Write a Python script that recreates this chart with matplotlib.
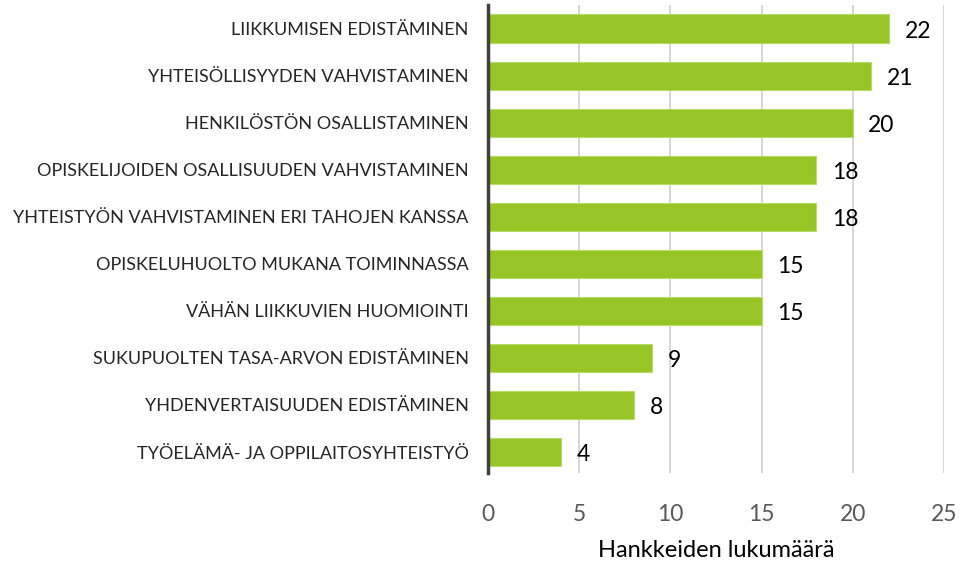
import matplotlib.pyplot as plt
import numpy as np

plt.rcParams['font.family'] = ['Lato', 'DejaVu Sans']

categories = [
    "LIIKKUMISEN EDISTÄMINEN",
    "YHTEISÖLLISYYDEN VAHVISTAMINEN",
    "HENKILÖSTÖN OSALLISTAMINEN",
    "OPISKELIJOIDEN OSALLISUUDEN VAHVISTAMINEN",
    "YHTEISTYÖN VAHVISTAMINEN ERI TAHOJEN KANSSA",
    "OPISKELUHUOLTO MUKANA TOIMINNASSA",
    "VÄHÄN LIIKKUVIEN HUOMIOINTI",
    "SUKUPUOLTEN TASA-ARVON EDISTÄMINEN",
    "YHDENVERTAISUUDEN EDISTÄMINEN",
    "TYÖELÄMÄ- JA OPPILAITOSYHTEISTYÖ",
]
values = [22, 21, 20, 18, 18, 15, 15, 9, 8, 4]
xticks = [0, 5, 10, 15, 20, 25]

fig = plt.figure(figsize=(9.67, 5.62), dpi=100)
ax = fig.add_axes([0.5047, 0.158, 0.4715, 0.833])

y = np.arange(len(categories))
ax.barh(y, values, height=0.6, color="#97c526", edgecolor="#b8dc6a", linewidth=0.8, zorder=3)

for yi, v in zip(y, values):
    ax.text(v + 0.85, yi + 0.06, str(v), va="center", ha="left", fontsize=16.5, color="black")

ax.set_xlim(0, 25)
ax.set_ylim(9.45, -0.5)
ax.set_yticks(y)
ax.set_yticklabels(categories, fontsize=13, color="#262626")
ax.set_xticks(xticks)
ax.tick_params(axis="x", length=0, pad=22, labelsize=16.5, labelcolor="#595959")
ax.tick_params(axis="y", length=0, pad=14)
ax.grid(axis="x", color="#d0d0d0", linewidth=1.2, zorder=0)

for s in ["top", "right", "bottom"]:
    ax.spines[s].set_visible(False)
ax.spines["left"].set_color("#404040")
ax.spines["left"].set_linewidth(2.5)
ax.spines["left"].set_zorder(4)

ax.set_xlabel("Hankkeiden lukumäärä", fontsize=17, color="black", labelpad=11)

fig.savefig("out.png", dpi=100)
